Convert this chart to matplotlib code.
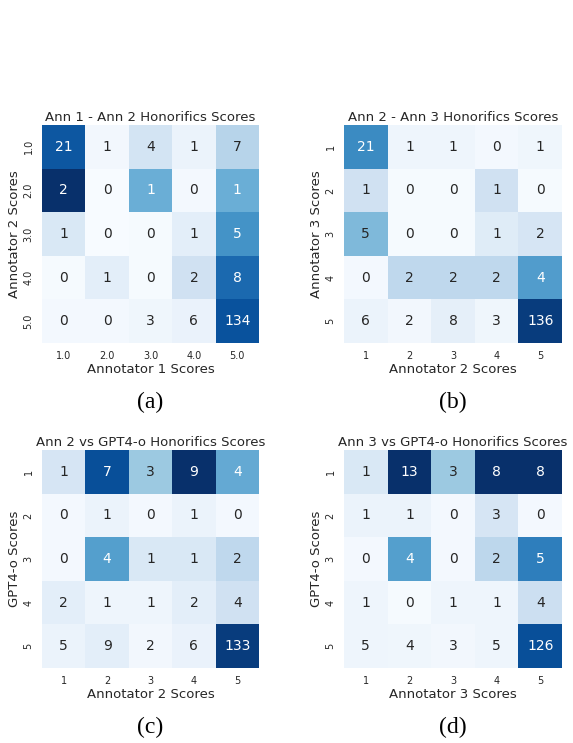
import numpy as np
import matplotlib
matplotlib.use("Agg")
import matplotlib.pyplot as plt
import seaborn as sns

sns.set_theme()
plt.rcParams['font.family'] = ['DejaVu Sans']

# counts shown in the cells
counts_a = np.array([[21, 1, 4, 1, 7],
                     [2, 0, 1, 0, 1],
                     [1, 0, 0, 1, 5],
                     [0, 1, 0, 2, 8],
                     [0, 0, 3, 6, 134]])
counts_b = np.array([[21, 1, 1, 0, 1],
                     [1, 0, 0, 1, 0],
                     [5, 0, 0, 1, 2],
                     [0, 2, 2, 2, 4],
                     [6, 2, 8, 3, 136]])
counts_c = np.array([[1, 7, 3, 9, 4],
                     [0, 1, 0, 1, 0],
                     [0, 4, 1, 1, 2],
                     [2, 1, 1, 2, 4],
                     [5, 9, 2, 6, 133]])
counts_d = np.array([[1, 13, 3, 8, 8],
                     [1, 1, 0, 3, 0],
                     [0, 4, 0, 2, 5],
                     [1, 0, 1, 1, 4],
                     [5, 4, 3, 5, 126]])

# colour intensity of each cell (0..1)
shade_a = np.array([[0.85, 0.03, 0.18, 0.06, 0.30],
                    [1.00, 0.00, 0.50, 0.02, 0.50],
                    [0.15, 0.00, 0.01, 0.10, 0.62],
                    [0.01, 0.10, 0.01, 0.20, 0.78],
                    [0.02, 0.02, 0.04, 0.07, 0.87]])
shade_b = np.array([[0.65, 0.05, 0.05, 0.02, 0.04],
                    [0.20, 0.01, 0.01, 0.20, 0.01],
                    [0.45, 0.01, 0.01, 0.12, 0.17],
                    [0.02, 0.27, 0.27, 0.27, 0.58],
                    [0.06, 0.03, 0.09, 0.04, 0.95]])
shade_c = np.array([[0.17, 0.88, 0.38, 1.00, 0.52],
                    [0.02, 0.06, 0.02, 0.06, 0.02],
                    [0.02, 0.57, 0.15, 0.15, 0.27],
                    [0.10, 0.05, 0.05, 0.10, 0.20],
                    [0.06, 0.10, 0.03, 0.07, 0.95]])
shade_d = np.array([[0.15, 1.00, 0.38, 1.00, 1.00],
                    [0.06, 0.06, 0.02, 0.17, 0.02],
                    [0.02, 0.57, 0.02, 0.28, 0.70],
                    [0.05, 0.01, 0.05, 0.05, 0.22],
                    [0.05, 0.04, 0.03, 0.05, 0.88]])

ticks_a = ["1.0", "2.0", "3.0", "4.0", "5.0"]
ticks = ["1", "2", "3", "4", "5"]

panels = [
    (counts_a, shade_a, ticks_a, "Ann 1 - Ann 2 Honorifics Scores", "Annotator 1 Scores", "Annotator 2 Scores", "(a)"),
    (counts_b, shade_b, ticks, "Ann 2 - Ann 3 Honorifics Scores", "Annotator 2 Scores", "Annotator 3 Scores", "(b)"),
    (counts_c, shade_c, ticks, "Ann 2 vs GPT4-o Honorifics Scores", "Annotator 2 Scores", "GPT4-o Scores", "(c)"),
    (counts_d, shade_d, ticks, "Ann 3 vs GPT4-o Honorifics Scores", "Annotator 3 Scores", "GPT4-o Scores", "(d)"),
]

W, H = 573, 743
fig = plt.figure(figsize=(W / 100, H / 100), dpi=100)

# axes boxes in pixels: left, top, right, bottom
boxes = [(42, 125, 259, 343), (344, 125, 562, 343),
         (42, 450, 259, 668), (344, 450, 562, 668)]

for (cnt, shade, tl, title, xl, yl, cap), (l, t, r, b) in zip(panels, boxes):
    ax = fig.add_axes([l / W, 1 - b / H, (r - l) / W, (b - t) / H])
    sns.heatmap(shade, annot=cnt, fmt="d", cmap="Blues", vmin=0, vmax=1,
                cbar=False, ax=ax, xticklabels=tl, yticklabels=tl,
                annot_kws={"fontsize": 10})
    ax.set_title(title, fontsize=9.5, color="#262626", pad=3)
    ax.set_xlabel(xl, fontsize=9.5, color="#262626", labelpad=1)
    ax.set_ylabel(yl, fontsize=9.5, color="#262626", labelpad=2)
    ax.tick_params(axis="both", labelsize=7, colors="#262626", length=0, pad=6)
    plt.setp(ax.get_yticklabels(), rotation=90, va="center")
    plt.setp(ax.get_xticklabels(), rotation=0)
    fig.text((l + r) / 2 / W, 1 - (b + 59) / H, cap, ha="center", va="center",
             fontsize=17, family="Liberation Serif", color="black")

fig.savefig("out.png", dpi=100)
